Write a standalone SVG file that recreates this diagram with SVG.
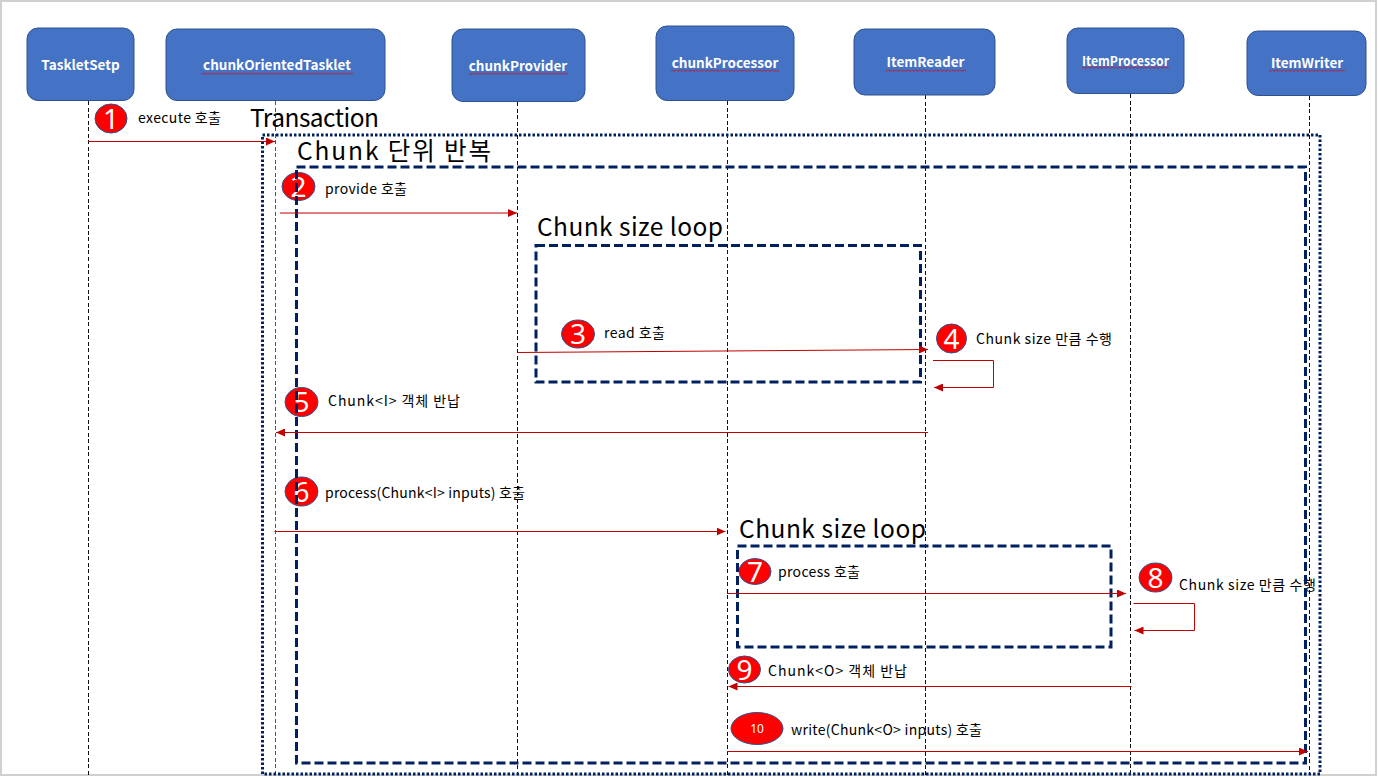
<svg xmlns="http://www.w3.org/2000/svg" width="1380" height="778" viewBox="0 0 1380 778">
<style>
.node{fill:#4472C4;stroke:#2F528F;stroke-width:1}
.ntext{font-family:"Noto Sans CJK KR","Noto Sans",sans-serif;font-weight:bold;font-size:13.5px;fill:#fff;text-anchor:middle}
.life{stroke:#111;stroke-width:1;stroke-dasharray:4 2.5;fill:none;shape-rendering:crispEdges}
.msg{stroke:#C00000;stroke-width:1;fill:none;marker-end:url(#ah)}
.lbl{font-family:"Noto Sans CJK KR","Noto Sans",sans-serif;font-size:14px;fill:#000}
.big{font-family:"Noto Sans CJK KR","Noto Sans",sans-serif;font-size:24.5px;fill:#000}
.badge{fill:#FF0000;stroke:#2F528F;stroke-width:1}
.num{font-family:"Noto Sans","Noto Sans CJK KR",sans-serif;font-size:28px;fill:#fff;text-anchor:middle}
.dot{fill:none;stroke:#002060;stroke-width:3;stroke-dasharray:2.5 2}
.dash{fill:none;stroke:#002060;stroke-width:3;stroke-dasharray:9 4}
.sq{fill:url(#squig)}
</style>
<defs>
<marker id="ah" markerUnits="userSpaceOnUse" markerWidth="10" markerHeight="8" refX="9" refY="4" orient="auto">
<path d="M0,0 L9,4 L0,8 z" fill="#C00000"/>
</marker>
<pattern id="squig" patternUnits="userSpaceOnUse" width="4" height="3">
<path d="M0,0.5 L2,2.5 L4,0.5" stroke="#E00000" stroke-width="0.8" fill="none"/>
</pattern>
</defs>
<rect x="0" y="0" width="1380" height="778" fill="#fff"/>
<rect x="1" y="1" width="1375" height="774" fill="none" stroke="#d0d0d0" stroke-width="2"/>

<g id="lifelines">
<line class="life" x1="88.5" y1="101" x2="88.5" y2="775"/>
<line class="life" x1="275.5" y1="101" x2="275.5" y2="775" style="stroke:#555"/>
<line class="life" x1="517.5" y1="102" x2="517.5" y2="775"/>
<line class="life" x1="727.5" y1="101" x2="727.5" y2="775"/>
<line class="life" x1="925.5" y1="95" x2="925.5" y2="775"/>
<line class="life" x1="1130.5" y1="94" x2="1130.5" y2="775"/>
<line class="life" x1="1309.5" y1="96" x2="1309.5" y2="775"/>
</g>

<g id="node-taskletsetp">
<rect class="node" x="27" y="28" width="107" height="72.5" rx="11"/>
<text class="ntext" x="80.5" y="70">TaskletSetp</text>
</g>
<g id="node-chunkorientedtasklet">
<rect class="node" x="166" y="29" width="219" height="71.5" rx="11"/>
<text class="ntext" x="277" y="70">chunkOrientedTasklet</text>
<rect class="sq" x="201" y="72" width="152" height="3"/>
</g>
<g id="node-chunkprovider">
<rect class="node" x="452" y="29" width="133" height="72.5" rx="11"/>
<text class="ntext" x="518" y="71">chunkProvider</text>
<rect class="sq" x="469" y="72" width="99" height="3"/>
</g>
<g id="node-chunkprocessor">
<rect class="node" x="656" y="26" width="138" height="74.5" rx="11"/>
<text class="ntext" x="725" y="68">chunkProcessor</text>
<rect class="sq" x="671" y="69" width="108" height="3"/>
</g>
<g id="node-itemreader">
<rect class="node" x="854" y="29" width="141" height="66" rx="11"/>
<text class="ntext" x="925.5" y="67">ItemReader</text>
<rect class="sq" x="886" y="69" width="80" height="3"/>
</g>
<g id="node-itemprocessor">
<rect class="node" x="1067" y="28" width="117" height="65.5" rx="11"/>
<text class="ntext" x="1125.5" y="66" textLength="87" lengthAdjust="spacingAndGlyphs">ItemProcessor</text>
<rect class="sq" x="1082" y="66" width="87" height="3"/>
</g>
<g id="node-itemwriter">
<rect class="node" x="1247" y="31" width="119" height="64.5" rx="11"/>
<text class="ntext" x="1307" y="68">ItemWriter</text>
<rect class="sq" x="1269" y="69" width="76" height="3"/>
</g>

<g id="badges">
<ellipse class="badge" cx="111" cy="118.5" rx="16" ry="14.5"/><text class="num" x="111" y="128.5">1</text>
<ellipse class="badge" cx="298.5" cy="186.5" rx="16.5" ry="14"/><text class="num" x="298.5" y="196.5">2</text>
<ellipse class="badge" cx="578" cy="334" rx="16.5" ry="14"/><text class="num" x="578" y="344">3</text>
<ellipse class="badge" cx="951.5" cy="338.5" rx="15" ry="14.5"/><text class="num" x="951.5" y="348.5">4</text>
<ellipse class="badge" cx="301.5" cy="402" rx="16.5" ry="14.5"/><text class="num" x="301.5" y="412">5</text>
<ellipse class="badge" cx="301.5" cy="491.5" rx="16.5" ry="14.5"/><text class="num" x="301.5" y="501.5">6</text>
<ellipse class="badge" cx="755" cy="571.5" rx="16" ry="13"/><text class="num" x="755" y="581.5">7</text>
<ellipse class="badge" cx="1155.5" cy="577.5" rx="16.5" ry="14.5"/><text class="num" x="1155.5" y="587.5">8</text>
<ellipse class="badge" cx="744.5" cy="669.5" rx="16" ry="13.5"/><text class="num" x="744.5" y="679.5">9</text>
<ellipse class="badge" cx="757" cy="728.5" rx="26" ry="16"/><text class="num" x="757" y="733" style="font-size:12px">10</text>
</g>

<g id="labels">
<text class="lbl" x="138" y="123" textLength="83">execute 호출</text>
<text class="lbl" x="325" y="194" textLength="82">provide 호출</text>
<text class="lbl" x="604" y="338" textLength="61">read 호출</text>
<text class="lbl" x="976" y="344" textLength="136">Chunk size 만큼 수행</text>
<text class="lbl" x="328" y="406" textLength="132">Chunk&lt;I&gt; 객체 반납</text>
<text class="lbl" x="325" y="498" textLength="200">process(Chunk&lt;I&gt; inputs) 호출</text>
<text class="lbl" x="778" y="577" textLength="82">process 호출</text>
<text class="lbl" x="1179" y="590" textLength="137">Chunk size 만큼 수행</text>
<text class="lbl" x="768" y="676" textLength="139">Chunk&lt;O&gt; 객체 반납</text>
<text class="lbl" x="791" y="735" textLength="191">write(Chunk&lt;O&gt; inputs) 호출</text>
</g>

<g id="frames">
<text class="big" x="250" y="127" textLength="129">Transaction</text>
<rect class="dot" x="262.5" y="135" width="1057.5" height="639"/>
<text class="big" x="297" y="160" textLength="194">Chunk 단위 반복</text>
<rect class="dash" x="296.5" y="167" width="1009" height="596"/>
<text class="big" x="537" y="236" textLength="186">Chunk size loop</text>
<rect class="dash" x="536" y="245.5" width="384.5" height="136.5"/>
<text class="big" x="739" y="538" textLength="187">Chunk size loop</text>
<rect class="dash" x="737.5" y="546" width="373.5" height="101"/>
</g>

<g id="connectors">
<line class="msg" x1="88" y1="141.5" x2="275" y2="141.5"/>
<line class="msg" x1="280" y1="213" x2="517" y2="213"/>
<line class="msg" x1="517.5" y1="352.5" x2="928" y2="349.5"/>
<path class="msg" d="M933,360.5 H993.5 V387.5 H934"/>
<line class="msg" x1="928" y1="432.5" x2="276" y2="432.5"/>
<line class="msg" x1="274.5" y1="531.5" x2="725.5" y2="531.5"/>
<line class="msg" x1="727" y1="593.5" x2="1126" y2="593.5"/>
<path class="msg" d="M1133.5,603.5 H1194.5 V630.5 H1134.5"/>
<line class="msg" x1="1131.5" y1="686.5" x2="728.5" y2="686.5"/>
<line class="msg" x1="727" y1="751.5" x2="1308" y2="751.5"/>
</g>
</svg>
